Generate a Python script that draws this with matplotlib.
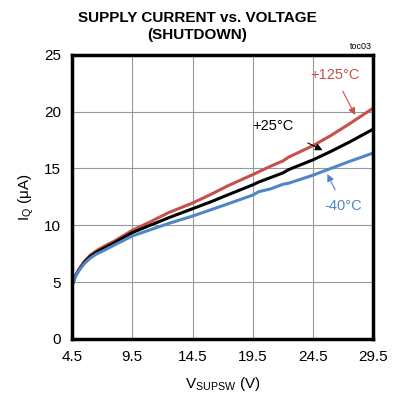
import matplotlib.pyplot as plt

plt.rcParams['font.family'] = ['Liberation Sans', 'DejaVu Sans']

# supply voltage (V) and shutdown current (uA) per temperature
v = [4.5, 4.75, 5.0, 5.5, 6.0, 6.5, 7.0, 8.0, 9.5, 11.0, 12.5, 14.5, 16.0,
     17.5, 19.5, 20.0, 21.0, 22.0, 22.5, 24.5, 26.0, 27.5, 29.5]
i_125 = [4.7, 5.5, 6.0, 6.8, 7.35, 7.75, 8.05, 8.6, 9.55, 10.3, 11.1, 11.95,
         12.7, 13.5, 14.45, 14.7, 15.2, 15.65, 16.0, 17.0, 17.9, 18.9, 20.3]
i_25 = [4.7, 5.45, 5.95, 6.7, 7.25, 7.6, 7.9, 8.45, 9.35, 10.0, 10.65, 11.45,
        12.05, 12.7, 13.55, 13.8, 14.2, 14.6, 14.9, 15.75, 16.5, 17.3, 18.45]
i_m40 = [4.7, 5.4, 5.9, 6.6, 7.1, 7.45, 7.7, 8.25, 9.05, 9.6, 10.15, 10.8,
         11.35, 11.9, 12.65, 12.95, 13.2, 13.6, 13.7, 14.4, 15.0, 15.6, 16.35]

red = '#c8504b'
blue = '#4f86c6'

fig = plt.figure(figsize=(3.94, 4.0), dpi=100)
ax = fig.add_axes([0.183, 0.153, 0.764, 0.71])

ax.plot(v, i_125, color=red, lw=2.2)
ax.plot(v, i_25, color='black', lw=2.2)
ax.plot(v, i_m40, color=blue, lw=2.2)

ax.set_xlim(4.5, 29.5)
ax.set_ylim(0, 25)
ax.set_xticks([4.5, 9.5, 14.5, 19.5, 24.5, 29.5])
ax.set_yticks([0, 5, 10, 15, 20, 25])
ax.grid(True, color='#999999', lw=0.8)
ax.tick_params(length=0, labelsize=11, pad=8)
for s in ax.spines.values():
    s.set_linewidth(2.5)

ax.set_xlabel(r'V$_{\mathregular{SUPSW}}$ (V)', fontsize=11, labelpad=8)
ax.set_ylabel(r'I$_{\mathregular{Q}}$ ($\mathregular{\mu}$A)', fontsize=11, labelpad=6)

fig.text(0.5, 0.934, 'SUPPLY CURRENT vs. VOLTAGE\n(SHUTDOWN)', ha='center',
         va='center', fontsize=11, fontweight='bold', linespacing=1.3)
fig.text(0.945, 0.872, 'toc03', ha='right', va='bottom', fontsize=6.5)

ax.annotate('+125°C', xy=(28.0, 19.7), xytext=(26.3, 23.2), color=red,
            fontsize=10.5, ha='center', va='center',
            arrowprops=dict(arrowstyle='-|>', color=red, lw=0.8,
                            shrinkA=5, shrinkB=0))
ax.annotate('+25°C', xy=(25.3, 16.6), xytext=(21.2, 18.75), color='black',
            fontsize=10.5, ha='center', va='center',
            arrowprops=dict(arrowstyle='-|>', color='black', lw=0.8,
                            shrinkA=12, shrinkB=0))
ax.annotate('-40°C', xy=(25.7, 14.5), xytext=(27.0, 11.7), color=blue,
            fontsize=10.5, ha='center', va='center',
            arrowprops=dict(arrowstyle='-|>', color=blue, lw=0.8,
                            shrinkA=5, shrinkB=0))

fig.savefig('out.png', dpi=100)
